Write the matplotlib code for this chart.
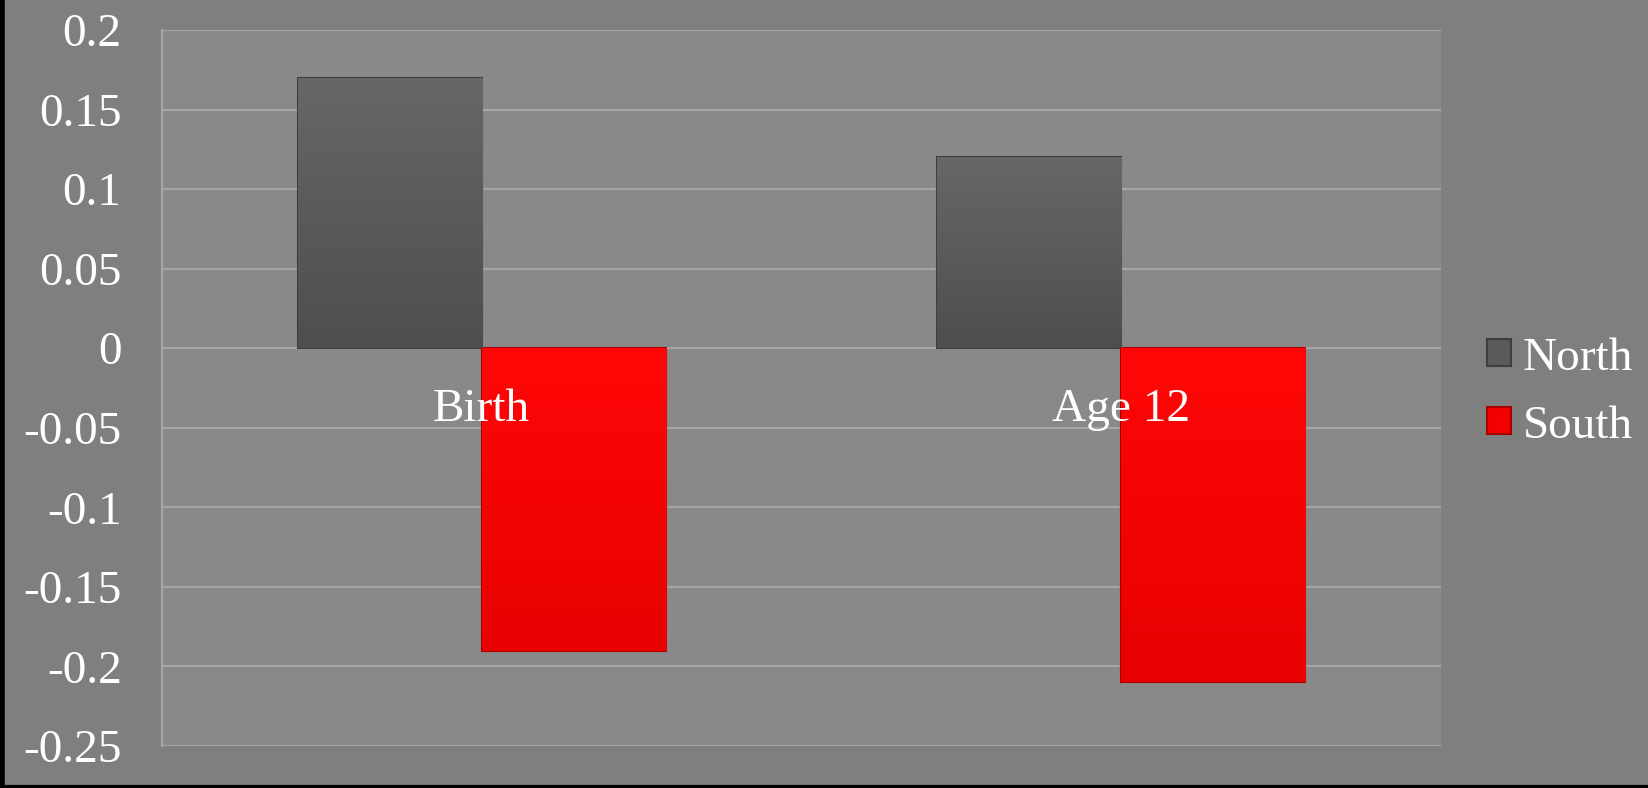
import matplotlib.pyplot as plt
import numpy as np
from matplotlib.lines import Line2D

# Chart data
categories = ['Birth', 'Age 12']
north = [0.17, 0.12]
south = [-0.19, -0.21]
y_ticks = [0.2, 0.15, 0.1, 0.05, 0, -0.05, -0.1, -0.15, -0.2, -0.25]
y_tick_labels = ['0.2', '0.15', '0.1', '0.05', '0', '-0.05', '-0.1', '-0.15', '-0.2', '-0.25']

plt.rcParams['font.family'] = ['Liberation Serif', 'DejaVu Serif']

fig = plt.figure(figsize=(16.49, 7.88), dpi=100, facecolor='#7f7f7f')
ax = fig.add_axes([0.0982, 0.0533, 0.7757, 0.9086], facecolor='#898989')

x = np.arange(len(categories))
w = 0.288

bars_n = ax.bar(x - w / 2, north, w, color='#5a5a5a', edgecolor='#3e3e3e',
                linewidth=1.5, label='North', zorder=3)
bars_s = ax.bar(x + w / 2, south, w, color='#f50000', edgecolor='#a80000',
                linewidth=1.5, label='South', zorder=3)

# vertical gradient fill inside each bar
def shade(bars, top, bottom):
    cmap = plt.matplotlib.colors.LinearSegmentedColormap.from_list('g', [bottom, top])
    grad = np.linspace(0, 1, 256).reshape(-1, 1)
    for b in bars:
        x0, y0 = b.get_x(), b.get_y()
        x1, y1 = x0 + b.get_width(), y0 + b.get_height()
        lo, hi = min(y0, y1), max(y0, y1)
        im = ax.imshow(grad, cmap=cmap, aspect='auto', origin='lower',
                       extent=[x0, x1, lo, hi], zorder=3.5)
        im.set_clip_path(b)

shade(bars_n, '#676767', '#4e4e4e')
shade(bars_s, '#ff0707', '#e80000')

ax.set_xlim(-0.5, len(categories) - 0.5)
ax.set_ylim(-0.25, 0.2)
ax.set_yticks(y_ticks)
ax.set_yticklabels(y_tick_labels)
ax.set_xticks([])
ax.tick_params(axis='y', length=0, pad=29, labelsize=34, labelcolor='white')

ax.yaxis.grid(True, color='#a6a6a6', linewidth=1.5)
ax.set_axisbelow(True)
for s in ['top', 'right', 'bottom']:
    ax.spines[s].set_visible(False)
ax.spines['left'].set_color('#a6a6a6')
ax.spines['left'].set_linewidth(1.5)

# category labels sit just under the zero line
for i, c in enumerate(categories):
    ax.annotate(c, (i, 0), xytext=(0, -44), textcoords='offset points',
                ha='center', va='center', fontsize=34, color='white', zorder=5)

fig.legend(handles=[bars_n, bars_s], labels=['North', 'South'],
           loc='center left', bbox_to_anchor=(1487 / 1649, 0.502),
           frameon=False, fontsize=34, labelcolor='white',
           handlelength=0.5, handleheight=0.5, handletextpad=0.25,
           labelspacing=0.54, borderpad=0, borderaxespad=0)

# thin black strips on left and bottom edges
fig.add_artist(Line2D([0.001, 0.001], [0, 1], color='black', linewidth=4,
                      transform=fig.transFigure))
fig.add_artist(Line2D([0, 1], [0.001, 0.001], color='black', linewidth=3,
                      transform=fig.transFigure))

plt.savefig('out.png', dpi=100, facecolor=fig.get_facecolor())
